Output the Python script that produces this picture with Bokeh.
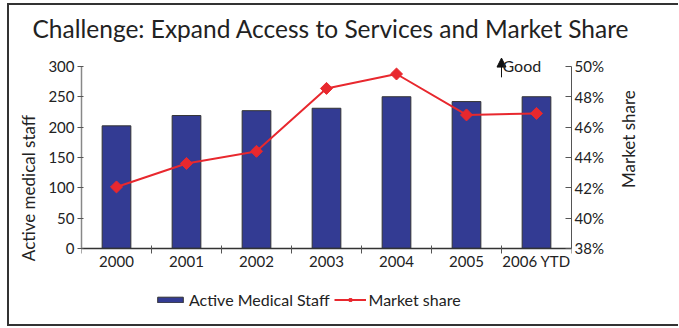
from math import pi
from bokeh.plotting import figure
from bokeh.models import (Range1d, LinearAxis, FixedTicker, PrintfTickFormatter,
                          Legend, LegendItem, Title, Arrow, NormalHead, Label, ColumnDataSource,
                          InlineStyleSheet)
from bokeh.embed import file_html
from bokeh.resources import INLINE

years = ["2000", "2001", "2002", "2003", "2004", "2005", "2006 YTD"]
staff = [202, 219, 227, 231, 250, 242, 250]
share = [42.05, 43.6, 44.4, 48.55, 49.5, 46.8, 46.9]
staff_ticks = [0, 50, 100, 150, 200, 250, 300]
share_ticks = [38, 40, 42, 44, 46, 48, 50]

FONT = "Lato"
xpos = [i + 0.5 for i in range(len(years))]
src = ColumnDataSource(dict(x=xpos, staff=staff, share=share, year=years))

# the frame is extended above the top tick (room for the "Good" note) and
# below zero (room for the x labels and legend); axes are bounded to the ticks
staff_top, staff_bottom = 318, -119


def share_of(v):
    return share_ticks[0] + (share_ticks[-1] - share_ticks[0]) * v / staff_ticks[-1]


frame_css = InlineStyleSheet(css=""":host { position: relative; overflow: hidden; }
:host::after { content: ""; position: absolute; left: 0; top: 5px; right: -10px; bottom: 0;
  border-style: solid; border-color: #333333; border-width: 2px 0 2px 2px;
  pointer-events: none; z-index: 10; }""")

p = figure(width=671, height=328, output_backend="svg", toolbar_location=None,
           x_range=Range1d(0, len(years)), y_range=Range1d(staff_bottom, staff_top),
           min_border_left=74, min_border_right=107, min_border_top=53, min_border_bottom=6,
           x_axis_location=None, y_axis_location=None,
           styles={"margin-top": "-2px", "margin-left": "7px", "margin-bottom": "-20px"},
           stylesheets=[frame_css])
p.outline_line_color = None
p.xgrid.visible = False
p.ygrid.visible = False
p.extra_y_ranges = {"share": Range1d(share_of(staff_bottom), share_of(staff_top))}

# title
t = Title(text="Challenge: Expand Access to Services and Market Share", align="left",
          text_font=FONT, text_font_size="24.5px", text_font_style="normal",
          text_color="#222222", offset=-49, standoff=26)
p.add_layout(t, "above")

# axes
yl = LinearAxis(ticker=FixedTicker(ticks=staff_ticks), axis_label="Active medical staff",
                bounds=(staff_ticks[0], staff_ticks[-1]))
yl.axis_label_text_font = FONT
yl.axis_label_text_font_size = "17px"
yl.axis_label_text_font_style = "normal"
yl.axis_label_text_color = "#222222"
yl.major_label_text_font = FONT
yl.major_label_text_font_size = "15px"
yl.major_label_text_color = "#222222"
yl.axis_line_color = "#888888"
yl.axis_line_width = 1.5
yl.major_tick_line_color = "#555555"
yl.major_tick_in = 2
yl.major_tick_out = 4
yl.major_label_standoff = 3
yl.axis_label_standoff = 6
yl.minor_tick_line_color = None
p.add_layout(yl, "left")

yr = LinearAxis(y_range_name="share", ticker=FixedTicker(ticks=share_ticks),
                formatter=PrintfTickFormatter(format="%d%%"), axis_label="Market share",
                bounds=(share_ticks[0], share_ticks[-1]))
yr.axis_label_text_font = FONT
yr.axis_label_text_font_size = "17px"
yr.axis_label_text_font_style = "normal"
yr.axis_label_text_color = "#222222"
yr.major_label_text_font = FONT
yr.major_label_text_font_size = "15px"
yr.major_label_text_color = "#222222"
yr.axis_line_color = "#555555"
yr.major_tick_line_color = "#555555"
yr.major_tick_in = 6
yr.major_tick_out = 0
yr.major_label_standoff = 3
yr.axis_label_standoff = 22
yr.minor_tick_line_color = None
if "axis_label_orientation" in yr.properties():
    yr.axis_label_orientation = pi / 2
p.add_layout(yr, "right")

xa = LinearAxis(ticker=FixedTicker(ticks=xpos, minor_ticks=list(range(len(years) + 1))),
                fixed_location=staff_ticks[0])
xa.major_label_overrides = {x: y for x, y in zip(xpos, years)}
xa.major_label_text_font = FONT
xa.major_label_text_font_size = "15px"
xa.major_label_text_color = "#222222"
xa.major_tick_line_color = None
xa.major_tick_in = 0
xa.major_tick_out = 0
xa.minor_tick_line_color = "#555555"
xa.minor_tick_in = 3
xa.minor_tick_out = 5
xa.axis_line_color = "#333333"
xa.axis_line_width = 1.5
xa.major_label_standoff = -1
p.add_layout(xa, "below")

bars = p.vbar(x="x", top="staff", width=0.41, source=src, fill_color="#333b93",
              line_color="#333333", line_width=1)
ln = p.line(x="x", y="share", source=src, y_range_name="share", line_color="#e8282e", line_width=2)
mk = p.scatter(x="x", y="share", source=src, y_range_name="share", marker="square",
               angle=pi / 4, size=8.5, fill_color="#e8282e", line_color="#e8282e")

# "Good" indicator
p.add_layout(Arrow(x_start=6.0, y_start=49.28, x_end=6.0, y_end=50.55, y_range_name="share",
                   line_color="#111111", line_width=1,
                   end=NormalHead(size=9, fill_color="#111111", line_color="#111111")))
p.add_layout(Label(x=6.0, y=49.42, y_range_name="share", text="Good", x_offset=1,
                   text_font=FONT, text_font_size="16px", text_color="#222222"))

legend = Legend(items=[LegendItem(label="Active Medical Staff", renderers=[bars]),
                       LegendItem(label="Market share", renderers=[ln, mk])],
                orientation="horizontal", location=(73, 11),
                label_text_font=FONT, label_text_font_size="16px", label_text_color="#222222",
                glyph_width=32, glyph_height=7, label_standoff=3, spacing=4,
                padding=0, margin=0, border_line_color=None, background_fill_color=None)
p.add_layout(legend, "center")

open("out.html", "w").write(file_html(p, INLINE))
